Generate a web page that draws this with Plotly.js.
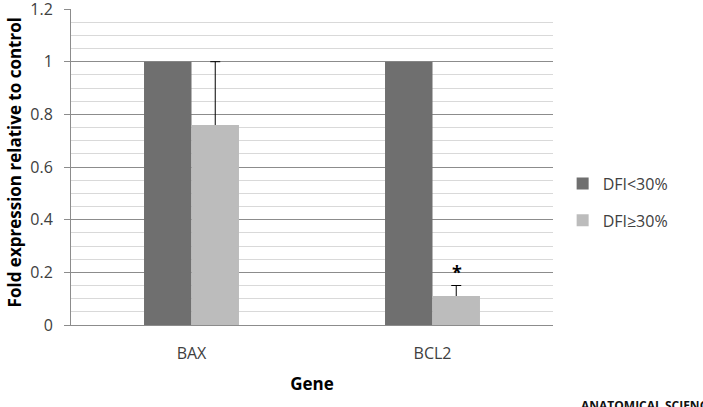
<!DOCTYPE html>
<html>
<head>
<meta charset="utf-8">
<script src="https://cdn.plot.ly/plotly-3.0.1.min.js"></script>
<style>
  html, body { margin: 0; padding: 0; background: #ffffff; }
  #chart { width: 703px; height: 407px; }
</style>
</head>
<body>
<div id="chart"></div>
<script>
// Gene expression (fold change relative to control) by DFI group
const genes = ['BAX', 'BCL2'];
const seriesNames = ['DFI<30%', 'DFI\u226530%'];
const lowDfi = [1.0, 1.0];
const highDfi = [0.76, 0.11];
const highDfiErrPlus = [0.24, 0.04];
const significant = [false, true];
const yTickVals = [0, 0.2, 0.4, 0.6, 0.8, 1, 1.2];
const yTickText = ['0', '0.2', '0.4', '0.6', '0.8', '1', '1.2'];

const FONT = '"Open Sans", "DejaVu Sans", sans-serif';
// the lower end of each error bar is tucked just inside its bar, which is drawn over it
const TUCK = 0.01;

const traces = [
  {
    type: 'bar',
    name: seriesNames[0],
    x: genes,
    y: lowDfi,
    offsetgroup: 'low',
    marker: { color: '#6f6f6f', line: { width: 0 } },
    legendgroup: 'a',
    hoverinfo: 'none'
  },
  {
    // carrier for the upper error bars of the second series
    type: 'bar',
    name: seriesNames[1],
    x: genes,
    y: highDfi,
    offsetgroup: 'high',
    marker: { color: 'rgba(0,0,0,0)', line: { width: 0 } },
    error_y: {
      type: 'data',
      symmetric: false,
      array: highDfiErrPlus,
      arrayminus: genes.map(() => TUCK),
      color: '#000000',
      thickness: 1,
      width: 5
    },
    showlegend: false,
    hoverinfo: 'none'
  },
  {
    type: 'bar',
    name: seriesNames[1],
    x: genes,
    y: highDfi,
    offsetgroup: 'high',
    marker: { color: '#bcbcbc', line: { width: 0 } },
    legendgroup: 'b',
    hoverinfo: 'none'
  }
];

// significance marks sit just above the error bar of the second series
const annotations = [];
genes.forEach((g, i) => {
  if (significant[i]) {
    annotations.push({
      xref: 'x', yref: 'y',
      x: g, y: highDfi[i] + highDfiErrPlus[i],
      xshift: 24, yshift: 14,
      text: '<b>*</b>',
      showarrow: false,
      font: { family: FONT, size: 18, color: '#000000' }
    });
  }
});

annotations.push({
  xref: 'paper', yref: 'paper',
  x: -0.118, y: 0.515,
  xanchor: 'center', yanchor: 'middle',
  textangle: -90,
  text: '<b>Fold expression relative to control</b>',
  showarrow: false,
  font: { family: FONT, size: 17, color: '#000000' }
});

annotations.push({
  xref: 'paper', yref: 'paper',
  x: 1.053, y: -0.222,
  xanchor: 'left', yanchor: 'top',
  text: '<b>ANATOMICAL SCIENCES</b>',
  showarrow: false,
  font: { family: FONT, size: 12, color: '#111111' }
});

const layout = {
  width: 703,
  height: 407,
  margin: { l: 71, r: 150, t: 9, b: 82, pad: 0 },
  paper_bgcolor: '#ffffff',
  plot_bgcolor: '#ffffff',
  font: { family: FONT, size: 16, color: '#404040' },
  barmode: 'group',
  bargap: 0.606,
  bargroupgap: 0,
  showlegend: true,
  legend: {
    x: 1.02, y: 0.389,
    xanchor: 'left', yanchor: 'middle',
    font: { family: FONT, size: 16, color: '#404040' },
    tracegroupgap: 13,
    itemwidth: 30,
    bgcolor: 'rgba(0,0,0,0)'
  },
  xaxis: {
    type: 'category',
    showgrid: false,
    showline: true,
    linecolor: '#8c8c8c',
    linewidth: 1,
    ticks: '',
    ticklabelstandoff: 14,
    tickfont: { family: FONT, size: 16, color: '#404040' },
    title: {
      text: '<b>Gene</b>',
      font: { family: FONT, size: 17, color: '#000000' },
      standoff: 14
    },
    fixedrange: true
  },
  yaxis: {
    range: [0, 1.2001],
    tickmode: 'array',
    tickvals: yTickVals,
    ticktext: yTickText,
    ticklabeloverflow: 'allow',
    showgrid: true,
    gridcolor: '#8c8c8c',
    gridwidth: 1,
    zeroline: false,
    showline: true,
    linecolor: '#8c8c8c',
    linewidth: 1,
    ticks: 'outside',
    ticklen: 6,
    tickcolor: '#8c8c8c',
    ticklabelstandoff: 8,
    tickfont: { family: FONT, size: 16, color: '#404040' },
    minor: {
      tick0: 0,
      dtick: 0.05,
      showgrid: true,
      gridcolor: '#d9d9d9',
      gridwidth: 1,
      ticks: ''
    },
    fixedrange: true
  },
  annotations: annotations
};

Plotly.newPlot('chart', traces, layout, { displayModeBar: false, staticPlot: true });
</script>
</body>
</html>
